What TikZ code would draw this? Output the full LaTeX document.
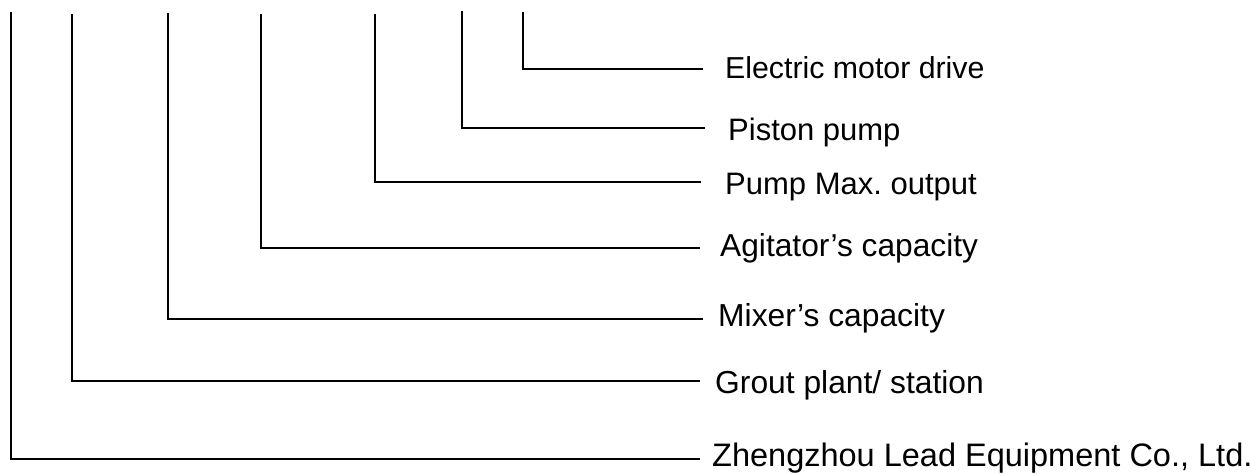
\documentclass[tikz,border=0pt]{standalone}
\usepackage{fontspec}
\setmainfont{Liberation Sans}
\frenchspacing
\begin{document}
\begin{tikzpicture}[x=1pt,y=-1pt,
  conn/.style={line width=1.6pt,black},
  lab/.style={anchor=base west,inner sep=0pt},
  fs/.style={font=\fontsize{#1}{#1}\selectfont}]
\useasboundingbox (0,0) rectangle (1251,474);
% tops of the vertical strokes
\coordinate (t1) at (523,12);
\coordinate (t2) at (462,11);
\coordinate (t3) at (375,14);
\coordinate (t4) at (261,14);
\coordinate (t5) at (168,13);
\coordinate (t6) at (72,14);
\coordinate (t7) at (11,12);
% ends of the horizontal strokes
\coordinate (e1) at (703,69);
\coordinate (e2) at (705,128);
\coordinate (e3) at (701,182);
\coordinate (e4) at (700,248);
\coordinate (e5) at (703,319);
\coordinate (e6) at (700,381);
\coordinate (e7) at (700,459);
% labels
\node[lab,fs=30.3] (l1) at (725,78) {Electric motor drive};
\node[lab,fs=31] (l2) at (728,140) {Piston pump};
\node[lab,fs=31] (l3) at (725,194) {Pump Max.\ output};
\node[lab,fs=31.7] (l4) at (720,256) {Agitator’s capacity};
\node[lab,fs=31.8] (l5) at (718,326) {Mixer’s capacity};
\node[lab,fs=31.8] (l6) at (715,393) {Grout plant/ station};
\node[lab,fs=32.5] (l7) at (712,466.5) {Zhengzhou Lead Equipment Co., Ltd.};
% connectors
\draw[conn] (t1) |- (e1);
\draw[conn] (t2) |- (e2);
\draw[conn] (t3) |- (e3);
\draw[conn] (t4) |- (e4);
\draw[conn] (t5) |- (e5);
\draw[conn] (t6) |- (e6);
\draw[conn] (t7) |- (e7);
\end{tikzpicture}
\end{document}
